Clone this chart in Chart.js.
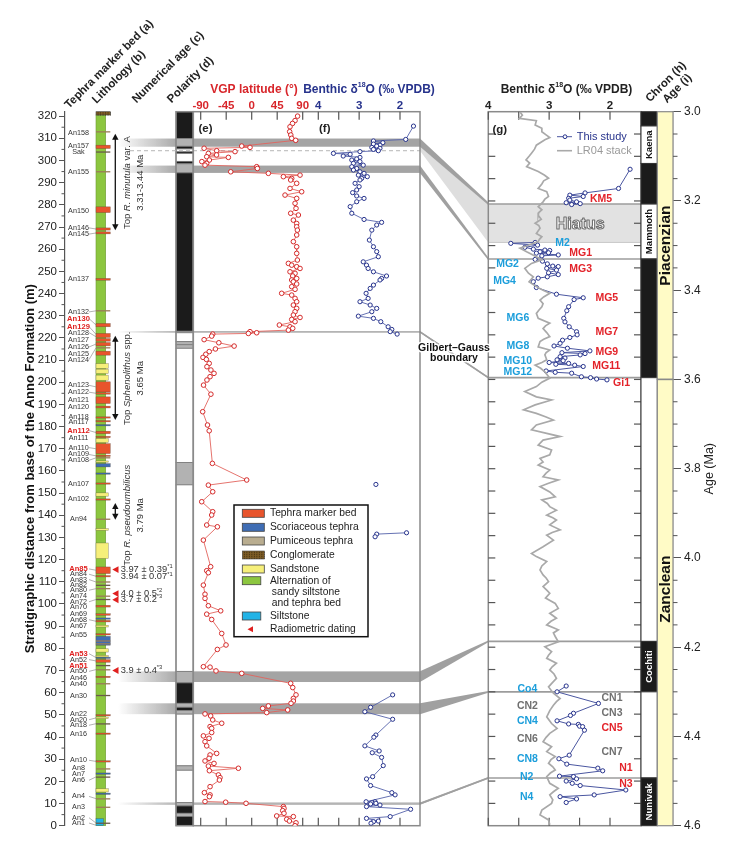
<!DOCTYPE html>
<html>
<head>
<meta charset="utf-8">
<title>Anno Formation – lithology, palaeomagnetism and benthic oxygen isotopes</title>
<script src="https://cdn.jsdelivr.net/npm/chart.js@4.4.1/dist/chart.umd.min.js"></script>
<style>
html,body{margin:0;padding:0;background:#ffffff;}
#wrap{position:relative;width:742px;height:856px;}
canvas{display:block;}
</style>
</head>
<body>
<div id="wrap"><canvas id="fig" width="742" height="856"></canvas></div>
<script>
// ======================= DATA =======================
const stratTicks = [0,10,20,30,40,50,60,70,80,90,100,110,120,130,140,150,160,170,180,190,200,210,220,230,240,250,260,270,280,290,300,310,320];
const ageTicks = [3.0,3.2,3.4,3.6,3.8,4.0,4.2,4.4,4.6];
const vgpTickValues = [-90,-45,0,45,90];
const isoTickValues = [4,3.5,3,2.5,2];
const isoTickLabels = [4,3,2];

// (e) VGP latitude vs stratigraphic height (m)
const vgpHeight = [320.0,318.0,316.7,315.2,313.0,311.5,310.0,309.1,306.5,305.9,305.5,304.4,304.0,303.2,302.5,301.7,301.4,300.2,299.5,298.7,297.9,297.2,296.4,294.9,294.2,293.4,292.7,291.9,291.2,289.7,287.4,285.9,284.4,282.9,280.7,278.4,276.2,275.4,273.1,271.6,270.1,268.6,266.4,263.4,261.1,258.1,255.1,253.6,252.8,252.1,251.3,249.8,249.1,247.9,246.8,246.1,245.3,244.3,243.1,241.9,240.1,239.3,237.8,236.3,234.8,233.3,231.8,230.3,229.2,228.3,227.3,225.8,225.0,224.3,223.5,222.8,222.3,222.0,221.7,220.8,219.2,217.8,216.3,215.0,213.8,212.6,211.2,210.3,208.5,207.0,205.5,204.0,202.5,201.0,198.7,194.6,186.7,180.7,178.1,163.4,155.9,153.6,150.6,146.1,141.6,140.1,135.6,134.8,128.8,116.8,115.0,114.1,108.5,104.4,102.5,99.2,96.9,95.4,93.0,86.7,81.5,79.5,71.7,71.5,69.8,68.7,64.2,62.3,59.0,57.4,56.2,55.2,54.0,52.9,52.2,51.0,50.4,49.5,47.7,46.2,44.7,43.9,42.0,40.5,39.4,37.9,36.0,32.6,31.9,30.4,29.2,28.1,26.9,25.9,24.8,22.9,21.7,20.6,17.6,14.9,13.9,13.1,10.9,10.6,10.1,8.6,7.8,6.8,5.6,4.4,4.1,2.9,2.1,1.3,0.0];
const vgpLatitude = [81,76.5,72,67.6,67,69,70.6,77.6,-17.6,-3,-84,-61.8,-29.4,-76.5,-62,-79.4,-41.2,-74.7,-88,-79.4,-82.4,8.8,10,-37,29.4,85.3,55.9,70.6,68.8,79.4,67.6,88.2,58.8,79.4,76.5,78.2,68.8,82.4,73.5,79.4,79.4,80.6,79.4,73.5,79.4,79.4,80.6,64.7,70.6,79.4,85.3,67.6,76.5,72.4,79.4,70.6,73.5,79.4,70.6,76.5,52.9,70.6,76.5,79.4,73.5,79.4,76.5,73.5,85.3,70.6,76.5,48.8,67.6,72.4,64.7,-3,8.8,-5.9,-68.8,-70.6,-84,-58,-31,-64,-75,-81,-86,-80,-75,-79,-72,-66.5,-73.5,-79,-85,-72,-86.5,-78,-75,-69.4,-8.8,-76.5,-68.8,-88.2,-68.8,-70.6,-79.4,-60.6,-85.3,-72.4,-79.4,-76.5,-85.3,-82.4,-82.4,-76.5,-54.7,-79.4,-70.6,-52.9,-45.3,-60.6,-85.3,-73.5,-63,-17.6,68.8,72.4,78.2,73.5,73.5,69.4,29.4,19.4,63.5,26.5,-82.4,-72.4,-68.8,-52.9,-73.5,-70.6,-70.6,-85.3,-75.3,-82.4,-79.4,-61.8,-73.5,-75.3,-82.4,-66.5,-76.5,-23.5,-74.7,-58.8,-55.9,-57,-73.5,-83.5,-73.5,-74.7,-82.4,-45.9,-10,55.9,57,54.7,57,44.1,73.5,61.8,66.5,78.2,76.5];

// (f) benthic d18O vs stratigraphic height (null = gap)
const isoHeight = [315.5,309.5,308.8,308.0,307.4,306.9,306.5,305.9,305.5,305.0,304.4,304.0,303.2,302.8,302.0,301.4,300.7,300.2,299.5,298.7,297.9,297.2,296.4,295.7,294.9,294.2,293.4,292.7,291.9,291.2,289.7,288.2,286.7,285.5,284.0,282.9,281.4,279.2,276.2,273.4,272.1,270.9,268.6,264.1,261.1,258.9,256.6,254.3,252.8,251.3,249.8,247.9,246.8,246.1,243.8,242.3,240.1,237.8,236.3,234.8,233.3,231.8,229.8,228.8,227.3,225.0,223.8,222.8,221.7,null,153.9,null,132.1,131.5,130.3,null,59.0,53.4,51.4,48.0,40.9,39.9,36.0,33.7,32.9,30.8,27.1,22.1,21.1,18.1,14.9,13.9,10.8,10.8,10.4,10.1,9.8,9.3,8.6,7.4,4.1,3.3,2.1,1.8,1.1];
const isoValue = [1.67,1.86,2.65,2.42,2.65,2.49,2.57,2.69,2.49,2.65,2.53,2.98,3.63,3.22,3.39,2.98,3.06,3.18,2.98,3.14,2.90,3.18,3.06,3.14,2.98,2.88,3.02,2.80,2.94,2.98,3.10,3.00,3.06,3.16,3.06,2.88,3.06,3.22,3.18,2.88,2.45,2.57,2.69,2.75,2.65,2.57,2.53,2.90,2.82,2.78,2.65,2.33,2.45,2.49,2.65,2.73,2.83,2.78,2.98,2.73,2.57,2.69,3.02,2.65,2.47,2.29,2.20,2.24,2.07,null,2.59,null,1.84,2.57,2.61,null,2.18,2.72,2.86,2.18,2.59,2.64,2.86,2.51,2.68,2.45,2.41,2.67,2.82,2.72,2.20,2.12,2.83,2.61,2.69,2.59,2.72,2.49,2.82,1.74,2.24,2.82,2.53,2.65,2.71];

// (g) benthic d18O of this study vs age (Ma)
const studyAge = [3.129,3.172,3.182,3.187,3.190,3.194,3.198,3.202,3.204,3.206,3.208,null,3.293,3.295,3.299,3.304,3.308,3.310,3.311,3.314,3.316,3.317,3.321,3.323,3.331,3.335,3.341,3.346,3.347,3.351,3.355,3.361,3.365,3.370,3.373,3.381,3.394,3.409,3.417,3.421,3.437,3.446,3.463,3.471,3.482,3.493,3.500,3.506,3.512,3.519,3.525,3.530,3.536,3.540,3.542,3.545,3.549,3.552,3.556,3.558,3.562,3.564,3.566,3.568,3.571,3.581,3.584,3.586,3.594,3.596,3.599,3.601,null,4.287,4.300,4.326,4.348,4.353,4.365,4.372,4.373,4.377,4.378,4.386,4.442,4.450,4.462,4.471,4.477,4.489,4.490,4.495,4.500,4.505,4.510,4.520,4.531,4.535,4.540,4.548];
const studyValue = [1.67,1.86,2.41,2.66,2.44,2.68,2.66,2.55,2.72,2.49,2.63,null,3.23,3.63,3.19,3.40,3.26,3.07,2.99,3.15,3.01,3.21,2.85,3.12,3.23,3.11,3.03,2.94,2.85,3.04,2.88,3.01,2.85,3.03,3.18,3.26,3.21,2.88,2.44,2.59,2.68,2.71,2.76,2.74,2.67,2.55,2.54,2.66,2.78,2.82,2.92,2.70,2.33,2.79,2.41,2.49,2.82,2.74,2.87,2.77,3.00,2.68,2.89,2.58,2.44,3.05,2.90,2.63,2.47,2.32,2.22,2.05,null,2.72,2.87,2.19,2.60,2.65,2.87,2.68,2.52,2.50,2.45,2.42,2.67,2.84,2.71,2.20,2.12,2.83,2.60,2.55,2.72,2.62,2.49,1.74,2.26,2.82,2.55,2.72];

// (g) LR04 benthic stack
const lr04Age = [3.000,3.008,3.015,3.020,3.030,3.037,3.045,3.052,3.058,3.063,3.075,3.084,3.093,3.100,3.108,3.115,3.123,3.134,3.142,3.149,3.155,3.162,3.172,3.179,3.190,3.196,3.202,3.213,3.220,3.226,3.232,3.241,3.250,3.255,3.261,3.273,3.280,3.286,3.291,3.302,3.306,3.314,3.325,3.332,3.340,3.351,3.362,3.370,3.381,3.392,3.400,3.407,3.415,3.422,3.430,3.437,3.445,3.452,3.463,3.474,3.480,3.486,3.495,3.504,3.510,3.515,3.527,3.534,3.540,3.545,3.556,3.562,3.568,3.575,3.583,3.590,3.597,3.606,3.616,3.627,3.639,3.646,3.657,3.668,3.676,3.684,3.691,3.702,3.713,3.721,3.728,3.736,3.747,3.758,3.769,3.777,3.785,3.792,3.803,3.810,3.818,3.825,3.833,3.840,3.852,3.863,3.870,3.878,3.885,3.893,3.904,3.910,3.915,3.926,3.937,3.943,3.949,3.960,3.975,3.990,3.997,4.008,4.018,4.027,4.038,4.045,4.053,4.064,4.072,4.079,4.090,4.102,4.113,4.124,4.135,4.142,4.150,4.161,4.168,4.176,4.188,4.199,4.210,4.218,4.225,4.236,4.244,4.251,4.260,4.270,4.280,4.289,4.303,4.315,4.322,4.330,4.342,4.356,4.371,4.382,4.393,4.402,4.412,4.423,4.434,4.445,4.452,4.460,4.468,4.475,4.482,4.490,4.505,4.516,4.524,4.531,4.542,4.550,4.565,4.576,4.587,4.598];
const lr04Value = [3.48,3.44,3.49,3.21,3.23,3.12,3.12,3.05,2.99,3.07,3.21,3.24,3.29,3.33,3.38,3.32,3.37,3.18,3.08,3.01,3.09,3.12,3.18,3.04,3.01,3.07,3.10,3.18,3.12,3.17,3.18,3.13,3.23,3.17,3.15,3.21,3.12,3.16,3.18,3.40,3.48,3.37,3.21,3.12,3.29,3.40,3.34,3.26,3.33,3.21,3.10,2.99,3.09,3.15,3.10,3.12,3.17,3.21,3.18,2.99,3.06,3.10,3.04,2.99,3.09,3.15,3.18,2.99,3.05,3.07,3.04,3.12,3.23,3.14,3.07,3.03,2.99,3.12,3.21,3.40,3.21,2.96,3.23,3.42,3.21,3.05,2.93,3.21,3.29,3.04,2.82,3.10,3.18,2.96,2.99,3.15,3.10,3.18,2.99,3.05,3.10,2.85,3.02,3.15,2.99,2.90,3.12,3.03,2.99,2.88,3.04,2.94,2.88,2.99,2.82,2.95,3.04,2.93,3.10,3.29,3.21,3.04,3.12,3.15,3.10,3.05,3.01,3.10,3.04,2.99,3.06,2.90,2.85,2.99,2.88,2.97,3.04,2.85,2.93,2.90,2.85,3.07,2.96,3.01,3.04,2.88,2.95,2.99,2.92,2.88,2.95,3.01,2.93,2.82,2.88,2.93,2.99,3.04,2.96,2.87,2.99,3.05,3.10,2.96,3.04,2.90,2.97,3.01,2.94,2.90,2.98,3.04,2.99,2.85,2.93,2.99,2.94,2.96,3.12,3.15,3.01,2.99];

// (b) lithology: [bottom (m), top (m), type]  T tephra marker, S scoriaceous, P pumiceous, C conglomerate, Y sandstone, I siltstone
const lithBeds = [
 [320.5,322,'C'],[312.7,313.2,'P'],[305.4,306.9,'T'],[303.7,304.1,'D'],[294.7,295.2,'P'],[276.5,279.1,'T'],[268.6,269.6,'T'],[266.9,267.8,'T'],
 [246.0,246.8,'T'],[232.0,232.5,'P'],[225.0,226.5,'T'],[220.2,222.0,'T'],[218.5,219.7,'T'],[216.4,217.9,'T'],[215.3,215.8,'P'],[212.2,214.0,'T'],
 [206.2,208.4,'Y'],[203.9,205.9,'Y'],[200.9,203.2,'Y'],[195.6,200.2,'T'],[194.6,195.3,'T'],[190.4,193.4,'T'],[188.4,189.2,'T'],[183.9,184.4,'T'],
 [182.2,182.7,'T'],[180.4,180.9,'S'],[176.8,177.9,'T'],[175.0,175.6,'T'],[172.8,174.6,'Y'],[167.8,172.3,'T'],[166.6,167.1,'T'],[165.7,166.2,'P'],
 [164.0,164.5,'Y'],[161.8,163.3,'S'],[158.6,159.1,'S'],[154.1,154.6,'T'],[148.6,150.1,'Y'],[146.9,147.4,'T'],[138.0,138.5,'P'],[133.2,134.0,'Y'],
 [120.5,127.5,'Y'],[113.7,116.7,'T'],[112.2,112.8,'T'],[109.7,110.2,'P'],[108.2,108.7,'D'],[106.7,107.2,'P'],[103.3,103.8,'P'],[101.8,102.3,'D'],
 [98.6,99.4,'T'],[94.9,95.6,'T'],[93.2,93.7,'S'],[91.9,92.6,'T'],[89.6,90.4,'Y'],[86.0,86.6,'T'],[81.4,85.4,'S'],[83.2,83.6,'P'],[82.0,82.3,'P'],
 [78.3,79.8,'Y'],[76.1,76.8,'Y'],[75.5,76.0,'S'],[73.7,74.9,'T'],[72.1,72.5,'D'],[70.2,70.6,'P'],[66.8,67.4,'T'],[63.9,64.3,'P'],[58.6,59.0,'D'],
 [49.6,50.1,'T'],[48.3,49.0,'Y'],[45.8,46.2,'D'],[41.3,41.8,'T'],[28.7,29.3,'T'],[25.5,25.9,'P'],[23.2,23.8,'S'],[21.8,22.2,'D'],[15.2,16.7,'Y'],
 [14.1,14.7,'S'],[12.0,12.4,'P'],[8.2,8.6,'P'],[0,3.2,'I'],[1.0,1.4,'D']
];
// (a) tephra labels: [name, label height, bed height, highlighted]
const tephraLabels = [
 ['An158',312.5,312.9,0],['An157',306.6,306.2,0],['Sak',303.9,303.9,0],['An155',294.6,294.9,0],['An150',277.4,277.8,0],['An146',269.6,269.1,0],
 ['An145',266.8,267.3,0],['An137',246.5,246.4,0],['An132',231.7,232.2,0],['An130',228.7,225.8,1],['An129',225.1,221.6,1],['An128',222.4,220.5,0],
 ['An127',219.2,219.1,0],['An126',215.9,217.2,0],['An125',212.9,213.1,0],['An124',210.2,215.5,0],['An123',198.6,197.9,0],['An122',195.5,195.0,0],
 ['An121',191.9,191.9,0],['An120',189.0,188.8,0],['An118',184.5,184.1,0],['An117',182.1,182.4,0],['An112',178.2,177.3,1],['An111',175.0,175.3,0],
 ['An110',170.5,170.0,0],['An109',167.4,166.8,0],['An108',164.8,165.9,0],['An107',154.0,154.3,0],['An102',147.2,147.1,0],['An94',138.5,138.2,0],
 ['An85',115.8,115.2,1],['An84',113.4,112.5,0],['An83',111.0,109.9,0],['An82',108.4,108.4,0],['An80',106.2,106.9,0],['An74',103.8,103.5,0],
 ['An72',101.0,102.0,0],['An70',98.6,99.0,0],['An69',95.6,95.2,0],['An68',92.9,92.2,0],['An67',90.1,90.0,0],['An55',85.9,86.3,0],
 ['An53',77.6,75.8,1],['An52',74.9,74.3,0],['An51',72.0,72.3,1],['An50',69.6,70.4,0],['An46',66.8,67.1,0],['An40',63.8,64.1,0],
 ['An30',58.5,58.8,0],['An22',50.2,49.8,0],['An20',47.8,48.6,0],['An18',45.3,46.0,0],['An16',41.5,41.5,0],['An10',29.5,29.0,0],
 ['An8',26.0,25.7,0],['An7',23.2,23.5,0],['An6',20.5,22.0,0],['An4',13.2,12.2,0],['An3',8.4,8.4,0],['An2',3.6,1.2,0],['An1',1.2,0.2,0]
];
// (c) numerical age ranges: [top (m), bottom (m), text centre (m), taxon, age]
const nannoDatums = [
 [312.0,268.5,290.0,['Top ','R. minutula',' var. A'],'3.31-3.44 Ma'],
 [221.0,183.0,201.8,['Top ','Sphenolithus',' spp.'],'3.65 Ma'],
 [145.5,138.0,140.0,['Top ','R. pseudoumbilicus',''],'3.79 Ma']
];
// radiometric dates: [height (m), marker shown, text, note]
const radioDates = [[115.5,1,'3.97 ± 0.39','*1'],[112.2,0,'3.94 ± 0.07','*1'],[104.7,1,'4.0 ± 0.5','*2'],[101.9,1,'3.7 ± 0.2','*3'],[70.0,1,'3.9 ± 0.4','*3']];
// (d) polarity: [bottom, top, N normal / R reversed / U uncertain]
const polarity = [
 [309.9,322,'N'],[306.4,309.9,'U'],[305.2,306.4,'N'],[303.9,305.2,'R'],[303.1,303.9,'N'],[299.6,303.1,'R'],[298.5,299.6,'N'],[294.4,298.5,'U'],
 [223.0,294.4,'N'],[222.3,223.0,'U'],[218.3,222.3,'R'],[216.9,218.3,'U'],[215.3,216.9,'U'],[163.8,215.3,'R'],[153.7,163.8,'U'],[69.6,153.7,'R'],
 [64.4,69.6,'U'],[55.2,64.4,'N'],[53.4,55.2,'U'],[51.9,53.4,'N'],[50.3,51.9,'U'],[27.0,50.3,'R'],[25.0,27.0,'U'],[10.4,25.0,'R'],
 [8.9,10.4,'U'],[5.6,8.9,'N'],[4.1,5.6,'U'],[0,4.1,'N']
];
// correlation bands: strat range (m) -> tie age range (Ma)
const corrStrat = [[306.2,309.9],[294.4,297.7],[222.3,223.1],[64.8,69.6],[50.3,55.2],[9.4,10.5]];
const corrAge = [[3.203,3.209],[3.327,3.333],[3.594,3.598],[4.185,4.189],[4.298,4.302],[4.491,4.495]];
const hiatusAge = [3.207,3.293];
const hiatusStratTop = 304.4;
const tieLineAges = [3.207,3.330,3.596,4.187,4.300,4.493];
// (h) chron: [top age, bottom age, N/R, name]
const chrons = [[3.0,3.032,'N',''],[3.032,3.116,'R','Kaena'],[3.116,3.207,'N',''],[3.207,3.330,'R','Mammoth'],[3.330,3.596,'N',''],[3.596,4.187,'R',''],[4.187,4.300,'N','Cochiti'],[4.300,4.493,'R',''],[4.493,4.6,'N','Nunivak']];
// (i) stages
const stages = [[3.0,3.6,'Piacenzian',3.30],[3.6,4.6,'Zanclean',4.07]];
// (g) isotope stage labels: [name, d18O position, age, colour class]
const misLabels = [
 ['KM5',2.33,3.196,'r'],['M2',2.90,3.294,'c'],['MG1',2.67,3.317,'r'],['MG2',3.87,3.341,'c'],['MG3',2.67,3.353,'r'],['MG4',3.92,3.379,'c'],
 ['MG5',2.24,3.417,'r'],['MG6',3.70,3.463,'c'],['MG7',2.24,3.495,'r'],['MG8',3.70,3.525,'c'],['MG9',2.24,3.539,'r'],['MG10',3.75,3.559,'c'],
 ['MG11',2.29,3.570,'r'],['MG12',3.75,3.584,'c'],['Gi1',1.95,3.609,'r'],['Co4',3.52,4.294,'c'],['CN1',2.14,4.315,'g'],['CN2',3.53,4.332,'g'],
 ['CN3',2.14,4.348,'g'],['CN4',3.53,4.365,'c'],['CN5',2.14,4.382,'r'],['CN6',3.53,4.406,'g'],['CN7',2.14,4.436,'g'],['CN8',3.53,4.451,'c'],
 ['N1',1.85,4.472,'r'],['N2',3.48,4.492,'c'],['N3',1.85,4.507,'r'],['N4',3.48,4.536,'c']
];
const legendItems = [['T','Tephra marker bed'],['S','Scoriaceous tephra'],['P','Pumiceous tephra'],['C','Conglomerate'],['Y','Sandstone'],['G','Alternation of|sandy siltstone|and tephra bed'],['I','Siltstone'],['R','Radiometric dating']];

// ======================= LAYOUT & STYLE =======================
const FF = '"Liberation Sans", Arial, Helvetica, sans-serif';
const F = (size, weight, style) => `${style || 'normal'} ${weight || 'normal'} ${size}px ${FF}`;
const L = 65, R = 673, TOP = 111.7, BOT = 825.7;
const EF_L = 193.3, EF_R = 420, G_L = 488.3, G_R = 641;
const POL_L = 176, CH_L = 641, CH_R = 657.3;
const COL_L = 96, COL_R = 105.7, BED_R = 110.3, SAND_R = 108.3, SILT_R = 103.5;
const RED = '#d8262b', NAVY = '#27338c';
const LITH = {T:'#e8542c', S:'#3f6db4', P:'#9a7b58', D:'#6a5a4a', C:'#7d5c26', Y:'#f6ef7a', I:'#22b3e6', G:'#8cc63f'};
const MISC = {r:'#e3232a', c:'#1c9edb', g:'#707070'};

function fitScale(v1, p1, v2, p2) {
  const k = (v2 - v1) / (p2 - p1);
  const a = v1 + (L - p1) * k, b = v1 + (R - p1) * k;
  return a < b ? {min: a, max: b, reverse: false} : {min: b, max: a, reverse: true};
}
const sE = fitScale(-90, 200.7, 90, 302.7);
const sF = fitScale(4, 318.3, 2, 400.0);
const sG = fitScale(4, 488.3, 2, 610.0);

function pts(xs, ys) { return xs.map((x, i) => ({x: x, y: ys[i]})); }

function richDraw(ctx, segs, x, y, align, rot) {
  ctx.save(); ctx.translate(x, y); if (rot) ctx.rotate(rot);
  let w = 0; segs.forEach(s => { ctx.font = s.f; w += ctx.measureText(s.t).width; });
  let cx = align === 'center' ? -w / 2 : (align === 'right' ? -w : 0);
  ctx.textAlign = 'left';
  segs.forEach(s => { ctx.font = s.f; ctx.fillStyle = s.c || '#222'; ctx.fillText(s.t, cx, s.dy || 0); cx += ctx.measureText(s.t).width; });
  ctx.restore();
}
function line(ctx, x1, y1, x2, y2) { ctx.beginPath(); ctx.moveTo(x1, y1); ctx.lineTo(x2, y2); ctx.stroke(); }
function poly(ctx, p) { ctx.beginPath(); ctx.moveTo(p[0][0], p[0][1]); for (let i = 1; i < p.length; i++) ctx.lineTo(p[i][0], p[i][1]); ctx.closePath(); ctx.fill(); }
function congl(ctx, x, y, w, h) {
  ctx.fillStyle = LITH.C; ctx.fillRect(x, y, w, h);
  ctx.fillStyle = '#2e2208';
  for (let i = 0; i < w; i += 2.5) for (let j = 0.8; j < h; j += 2) ctx.fillRect(x + i + ((j * 2) % 2), y + j, 0.9, 0.9);
  ctx.strokeStyle = '#444'; ctx.lineWidth = 0.6; ctx.strokeRect(x, y, w, h);
}

const figurePlugin = {
  id: 'figure',
  beforeDatasetsDraw(chart) {
    const ctx = chart.ctx, s = chart.scales;
    const Y = v => s.ys.getPixelForValue(v), A = a => s.ya.getPixelForValue(a);
    const T = chart.chartArea.top, B = chart.chartArea.bottom;
    ctx.save();
    // correlation bands (left fade + e/f panel)
    corrStrat.forEach(([b0, b1], i) => {
      const y0 = Y(b1), y1 = Y(b0), thin = (b1 - b0) < 2;
      const g = ctx.createLinearGradient(118, 0, POL_L, 0);
      g.addColorStop(0, 'rgba(165,165,165,0)'); g.addColorStop(1, thin ? 'rgba(175,175,175,0.9)' : 'rgba(165,165,165,0.95)');
      ctx.fillStyle = g; ctx.fillRect(118, y0, POL_L - 118, y1 - y0);
      ctx.fillStyle = thin ? '#b4b4b4' : '#a4a4a4'; ctx.fillRect(EF_L, y0, EF_R - EF_L, y1 - y0);
    });
    // hiatus wedge
    ctx.fillStyle = '#dedede';
    poly(ctx, [[EF_R, Y(306.2)], [G_L, A(hiatusAge[0])], [G_L, A(hiatusAge[1])], [EF_R, Y(hiatusStratTop)]]);
    // connectors
    corrStrat.forEach(([b0, b1], i) => {
      const [a0, a1] = corrAge[i];
      ctx.fillStyle = (b1 - b0) < 2 ? '#a8a8a8' : '#a0a0a0';
      poly(ctx, [[EF_R, Y(b1)], [G_L, A(a0)], [G_L, A(a1)], [EF_R, Y(b0)]]);
      if ((b1 - b0) < 2) { ctx.strokeStyle = '#a0a0a0'; ctx.lineWidth = 1.6; line(ctx, EF_R, (Y(b0) + Y(b1)) / 2, G_L, A((a0 + a1) / 2)); }
    });
    // hiatus box and tie lines in (g)
    ctx.fillStyle = '#e2e2e2'; ctx.fillRect(G_L, A(hiatusAge[0]), G_R - G_L, A(hiatusAge[1]) - A(hiatusAge[0]));
    ctx.strokeStyle = '#c9c9c9'; ctx.lineWidth = 1; line(ctx, G_L, A(hiatusAge[1]), G_R, A(hiatusAge[1]));
    ctx.strokeStyle = '#9c9c9c'; ctx.lineWidth = 1.6;
    tieLineAges.forEach(a => line(ctx, G_L, A(a), G_R, A(a)));
    // lithology column
    ctx.fillStyle = LITH.G; ctx.fillRect(COL_L, Y(320.5), COL_R - COL_L, Y(0) - Y(320.5));
    ctx.strokeStyle = '#6f9a35'; ctx.lineWidth = 0.6; ctx.strokeRect(COL_L, Y(320.5), COL_R - COL_L, Y(0) - Y(320.5));
    lithBeds.forEach(([b0, b1, t]) => {
      const y0 = Y(b1), h = Math.max(1.3, Y(b0) - Y(b1));
      if (t === 'C') { congl(ctx, COL_L, y0, BED_R - COL_L, h); return; }
      const right = t === 'Y' ? SAND_R : (t === 'I' ? SILT_R : BED_R);
      ctx.fillStyle = LITH[t]; ctx.fillRect(COL_L, y0, right - COL_L, h);
      if (t === 'T' || t === 'Y' || t === 'S' || t === 'I') { ctx.strokeStyle = 'rgba(70,60,50,0.55)'; ctx.lineWidth = 0.5; ctx.strokeRect(COL_L, y0, right - COL_L, h); }
    });
    // polarity column
    polarity.forEach(([b0, b1, c]) => {
      const y0 = Y(b1), y1 = Y(b0);
      ctx.fillStyle = c === 'N' ? '#1b1b1b' : (c === 'R' ? '#ffffff' : '#b2b2b2');
      ctx.fillRect(POL_L, y0, EF_L - POL_L, y1 - y0);
      ctx.strokeStyle = '#7a7a7a'; ctx.lineWidth = 0.8; ctx.strokeRect(POL_L, y0, EF_L - POL_L, y1 - y0);
    });
    ctx.strokeStyle = '#8a8a8a'; ctx.lineWidth = 1.5; ctx.strokeRect(POL_L, T, EF_L - POL_L, B - T);
    // dashed line (hiatus level)
    ctx.save(); ctx.setLineDash([4, 3]); ctx.strokeStyle = '#b5b5b5'; ctx.lineWidth = 1;
    line(ctx, 130, Y(hiatusStratTop), EF_R, Y(hiatusStratTop)); ctx.restore();
    // frames
    ctx.strokeStyle = '#8a8a8a'; ctx.lineWidth = 1.5;
    ctx.strokeRect(EF_L, T, EF_R - EF_L, B - T);
    ctx.strokeRect(G_L, T, G_R - G_L, B - T);
    // inner ticks
    ctx.strokeStyle = '#555'; ctx.lineWidth = 1.2;
    vgpTickValues.forEach(v => { const x = s.xe.getPixelForValue(v); line(ctx, x, T, x, T + 8); line(ctx, x, B, x, B - 8); });
    isoTickValues.forEach(v => { const x = s.xf.getPixelForValue(v); line(ctx, x, T, x, T + 8); line(ctx, x, B, x, B - 8); });
    isoTickValues.forEach(v => { const x = s.xg.getPixelForValue(v); line(ctx, x, T, x, T + 8); line(ctx, x, B, x, B - 8); });
    for (let a = 3.05; a < 4.58; a += 0.05) { const y = A(a); line(ctx, G_L, y, G_L + 7, y); line(ctx, G_R - 7, y, G_R, y); }
    // chron column
    chrons.forEach(([a0, a1, c, name]) => {
      const y0 = A(a0), y1 = A(a1);
      ctx.fillStyle = c === 'N' ? '#1b1b1b' : '#ffffff'; ctx.fillRect(CH_L, y0, CH_R - CH_L, y1 - y0);
      ctx.strokeStyle = '#333'; ctx.lineWidth = 1; ctx.strokeRect(CH_L, y0, CH_R - CH_L, y1 - y0);
    });
    // stage column
    stages.forEach(([a0, a1]) => {
      ctx.fillStyle = '#fffbc6'; ctx.fillRect(CH_R, A(a0), R - CH_R, A(a1) - A(a0));
      ctx.strokeStyle = '#8a8a8a'; ctx.lineWidth = 1.2; ctx.strokeRect(CH_R, A(a0), R - CH_R, A(a1) - A(a0));
    });
    // minor ticks on outer axes
    ctx.strokeStyle = '#555'; ctx.lineWidth = 1;
    for (let v = 5; v < 322; v += 10) line(ctx, L - 3.5, Y(v), L, Y(v));
    for (let a = 3.05; a < 4.58; a += 0.05) { if (Math.abs(a * 5 - Math.round(a * 5)) > 0.01) line(ctx, R, A(a), R + 4.5, A(a)); }
    ctx.restore();
  },
  afterDatasetsDraw(chart) {
    const ctx = chart.ctx, s = chart.scales;
    const Y = v => s.ys.getPixelForValue(v), A = a => s.ya.getPixelForValue(a), XG = v => s.xg.getPixelForValue(v);
    const T = chart.chartArea.top, B = chart.chartArea.bottom;
    ctx.save();
    ctx.textBaseline = 'middle';
    // rotated column headers
    [['Tephra marker bed (a)', 69, 109], ['Lithology (b)', 96.5, 104], ['Numerical age (c)', 136.5, 103.5], ['Polarity (d)', 171.5, 103.5], ['Chron (h)', 650, 102.5], ['Age (i)', 667, 103.5]].forEach(([t, x, y]) => {
      ctx.save(); ctx.translate(x, y); ctx.rotate(-Math.PI / 4); ctx.font = F(11.5, 'bold'); ctx.fillStyle = '#222'; ctx.textAlign = 'left'; ctx.textBaseline = 'alphabetic'; ctx.fillText(t, 0, 0); ctx.restore();
    });
    // tephra labels with leaders
    tephraLabels.forEach(([name, lv, bv, hi]) => {
      const y = Y(lv);
      ctx.font = hi ? F(7.6, 'bold') : F(7.2); ctx.fillStyle = hi ? '#e0201f' : '#333'; ctx.textAlign = 'center';
      ctx.fillText(name, 78.5, y);
      if (Math.abs(lv - bv) >= 0.5) { ctx.strokeStyle = '#808080'; ctx.lineWidth = 0.6; line(ctx, 89, y, COL_L, Y(bv)); }
    });
    // nannofossil datums
    nannoDatums.forEach(([top, bot, mid, taxon, age]) => {
      const x = 115.3, y0 = Y(top), y1 = Y(bot);
      ctx.strokeStyle = '#111'; ctx.fillStyle = '#111'; ctx.lineWidth = 1.3;
      line(ctx, x, y0 + 4, x, y1 - 4);
      poly(ctx, [[x, y0], [x - 3.2, y0 + 6], [x + 3.2, y0 + 6]]);
      poly(ctx, [[x, y1], [x - 3.2, y1 - 6], [x + 3.2, y1 - 6]]);
      ctx.textBaseline = 'middle';
      richDraw(ctx, [{t: taxon[0], f: F(9.5), c: '#333'}, {t: taxon[1], f: F(9.5, 'normal', 'italic'), c: '#333'}, {t: taxon[2], f: F(9.5), c: '#333'}], 127, Y(mid), 'center', -Math.PI / 2);
      richDraw(ctx, [{t: age, f: F(9.5), c: '#333'}], 140, Y(mid), 'center', -Math.PI / 2);
    });
    // radiometric dating
    radioDates.forEach(([h, mark, t, n]) => {
      const y = Y(h);
      if (mark) { ctx.fillStyle = '#e0201f'; poly(ctx, [[112.3, y], [118.5, y - 3.4], [118.5, y + 3.4]]); }
      richDraw(ctx, [{t: t, f: F(9.3), c: '#333'}, {t: n, f: F(5.8), c: '#333', dy: -3}], 120.7, y, 'left');
    });
    // axis titles (top)
    ctx.textBaseline = 'middle';
    richDraw(ctx, [{t: 'VGP latitude (°)', f: F(12, 'bold'), c: RED}], 254, 89.5, 'center');
    richDraw(ctx, [{t: 'Benthic δ', f: F(12, 'bold'), c: NAVY}, {t: '18', f: F(7, 'bold'), c: NAVY, dy: -4}, {t: 'O (‰ VPDB)', f: F(12, 'bold'), c: NAVY}], 369, 89.5, 'center');
    richDraw(ctx, [{t: 'Benthic δ', f: F(12, 'bold'), c: '#222'}, {t: '18', f: F(7, 'bold'), c: '#222', dy: -4}, {t: 'O (‰ VPDB)', f: F(12, 'bold'), c: '#222'}], 566.5, 89.5, 'center');
    ctx.textAlign = 'center';
    ctx.font = F(11.5, 'bold'); ctx.fillStyle = RED;
    vgpTickValues.forEach(v => ctx.fillText(String(v), s.xe.getPixelForValue(v), 105.5));
    ctx.fillStyle = NAVY; isoTickLabels.forEach(v => ctx.fillText(String(v), s.xf.getPixelForValue(v), 105.5));
    ctx.fillStyle = '#222'; isoTickLabels.forEach(v => ctx.fillText(String(v), XG(v), 105.5));
    // panel letters
    ctx.textAlign = 'left'; ctx.font = F(11.5, 'bold'); ctx.fillStyle = '#222';
    ctx.fillText('(e)', 198.5, 128.5); ctx.fillText('(f)', 319, 128.5); ctx.fillText('(g)', 492.5, 129.5);
    // lithology legend
    const bx = 234, by = 505, bw = 134, bh = 131.7;
    ctx.fillStyle = '#fff'; ctx.fillRect(bx, by, bw, bh); ctx.strokeStyle = '#111'; ctx.lineWidth = 1.5; ctx.strokeRect(bx, by, bw, bh);
    const rowsY = [513.3, 527.3, 541, 555, 569, 580.7, 616, 629.3];
    legendItems.forEach(([k, text], i) => {
      const y = rowsY[i];
      if (k === 'C') congl(ctx, 242.3, y - 4, 22, 8);
      else if (k === 'R') { ctx.fillStyle = '#e0201f'; poly(ctx, [[247.5, y], [253, y - 3], [253, y + 3]]); }
      else {
        const w = (k === 'G' || k === 'I') ? 18.5 : 22;
        ctx.fillStyle = k === 'P' ? '#b9ad90' : LITH[k]; ctx.fillRect(242.3, y - 4, w, 8);
        ctx.strokeStyle = '#444'; ctx.lineWidth = 0.8; ctx.strokeRect(242.3, y - 4, w, 8);
      }
      ctx.font = F(10.3); ctx.fillStyle = '#222'; ctx.textAlign = 'left';
      const parts = text.split('|');
      parts.forEach((p, j) => ctx.fillText(p, j === 0 ? 270 : 271.8, y + j * 11.3));
    });
    // (g) legend
    ctx.strokeStyle = '#4a56a0'; ctx.lineWidth = 1; line(ctx, 557, 136.7, 572, 136.7);
    ctx.beginPath(); ctx.arc(565, 136.7, 1.9, 0, Math.PI * 2); ctx.fillStyle = '#fff'; ctx.fill(); ctx.strokeStyle = NAVY; ctx.stroke();
    ctx.font = F(11); ctx.fillStyle = NAVY; ctx.textAlign = 'left'; ctx.fillText('This study', 576.7, 137);
    ctx.strokeStyle = '#a9a9a9'; ctx.lineWidth = 1.6; line(ctx, 557, 150.7, 572, 150.7);
    ctx.fillStyle = '#9a9a9a'; ctx.fillText('LR04 stack', 576.7, 151);
    // isotope stage labels
    ctx.font = F(10.5, 'bold');
    misLabels.forEach(([t, d, a, c]) => { ctx.fillStyle = MISC[c]; ctx.fillText(t, XG(d), A(a)); });
    // Gilbert–Gauss boundary
    ctx.textAlign = 'center'; ctx.font = F(10.5, 'bold'); ctx.lineWidth = 3; ctx.strokeStyle = '#fff'; ctx.lineJoin = 'round';
    ['Gilbert–Gauss', 'boundary'].forEach((t, j) => { ctx.strokeText(t, 454, 348.5 + j * 9.5); ctx.fillStyle = '#111'; ctx.fillText(t, 454, 348.5 + j * 9.5); });
    // Hiatus
    ctx.font = F(16, 'bold'); ctx.lineWidth = 1.1; ctx.strokeStyle = '#707070'; ctx.fillStyle = '#ffffff';
    ctx.fillText('Hiatus', XG(2.49), A(3.252)); ctx.strokeText('Hiatus', XG(2.49), A(3.252));
    // chron names
    chrons.forEach(([a0, a1, c, name]) => {
      if (!name) return;
      ctx.save(); ctx.translate((CH_L + CH_R) / 2 + 0.5, A((a0 + a1) / 2)); ctx.rotate(-Math.PI / 2);
      ctx.font = F(9.6, 'bold'); ctx.fillStyle = c === 'N' ? '#fff' : '#111'; ctx.textAlign = 'center'; ctx.fillText(name, 0, 0); ctx.restore();
    });
    stages.forEach(([a0, a1, name, mid]) => {
      ctx.save(); ctx.translate((CH_R + R) / 2 + 0.5, A(mid)); ctx.rotate(-Math.PI / 2);
      ctx.font = F(15.5, 'bold'); ctx.fillStyle = '#111'; ctx.textAlign = 'center'; ctx.fillText(name, 0, 0); ctx.restore();
    });
    ctx.strokeStyle = '#8a8a8a'; ctx.lineWidth = 1.4; line(ctx, CH_R, A(3.6), R, A(3.6));
    // right axis title
    ctx.save(); ctx.translate(709.5, (T + B) / 2); ctx.rotate(-Math.PI / 2); ctx.font = F(12.5); ctx.fillStyle = '#222'; ctx.textAlign = 'center'; ctx.fillText('Age (Ma)', 0, 0); ctx.restore();
    ctx.restore();
  }
};

// ======================= CHART =======================
const commonPt = {showLine: true, spanGaps: false, tension: 0};
new Chart(document.getElementById('fig'), {
  type: 'scatter',
  data: {
    datasets: [
      Object.assign({label: 'LR04 stack', data: pts(lr04Value, lr04Age), xAxisID: 'xg', yAxisID: 'ya', borderColor: '#a9a9a9', borderWidth: 1.7, pointRadius: 0}, commonPt),
      Object.assign({label: 'VGP latitude', data: pts(vgpLatitude, vgpHeight), xAxisID: 'xe', yAxisID: 'ys', borderColor: '#e2645e', borderWidth: 0.9, pointRadius: 2.3, pointBorderWidth: 1, pointBorderColor: '#d42a2a', pointBackgroundColor: '#ffffff'}, commonPt),
      Object.assign({label: 'Benthic d18O (f)', data: pts(isoValue, isoHeight), xAxisID: 'xf', yAxisID: 'ys', borderColor: '#5562aa', borderWidth: 0.9, pointRadius: 2.1, pointBorderWidth: 1, pointBorderColor: NAVY, pointBackgroundColor: '#ffffff'}, commonPt),
      Object.assign({label: 'This study', data: pts(studyValue, studyAge), xAxisID: 'xg', yAxisID: 'ya', borderColor: '#4a56a0', borderWidth: 1, pointRadius: 2.1, pointBorderWidth: 1, pointBorderColor: NAVY, pointBackgroundColor: '#ffffff'}, commonPt)
    ]
  },
  options: {
    responsive: false, animation: false, events: [],
    layout: {padding: {top: TOP, bottom: 856 - BOT, left: 0, right: 0}},
    plugins: {legend: {display: false}, tooltip: {enabled: false}},
    scales: {
      xe: {axis: 'x', type: 'linear', display: false, min: sE.min, max: sE.max, reverse: sE.reverse},
      xf: {axis: 'x', type: 'linear', display: false, min: sF.min, max: sF.max, reverse: sF.reverse},
      xg: {axis: 'x', type: 'linear', display: false, min: sG.min, max: sG.max, reverse: sG.reverse},
      ys: {
        axis: 'y', type: 'linear', position: 'left', min: 0, max: 322,
        afterFit: sc => { sc.width = L; },
        afterBuildTicks: sc => { sc.ticks = stratTicks.map(v => ({value: v})); },
        ticks: {color: '#222', font: {family: FF, size: 11.5}, padding: 2},
        grid: {drawOnChartArea: false, tickLength: 6, color: '#555', tickColor: '#555'},
        border: {display: true, color: '#555', width: 1.2},
        title: {display: true, text: 'Stratigraphic distance from base of the Anno Formation (m)', color: '#111', font: {family: FF, size: 13, weight: 'bold'}, padding: {top: 23, bottom: 0}}
      },
      ya: {
        axis: 'y', type: 'linear', position: 'right', min: 3.0, max: 4.6, reverse: true,
        afterFit: sc => { sc.width = 742 - R; },
        afterBuildTicks: sc => { sc.ticks = ageTicks.map(v => ({value: v})); },
        ticks: {color: '#222', font: {family: FF, size: 12}, padding: 3, callback: v => Number(v).toFixed(1)},
        grid: {drawOnChartArea: false, tickLength: 8, color: '#555', tickColor: '#555'},
        border: {display: true, color: '#666', width: 1.2}
      }
    }
  },
  plugins: [figurePlugin]
});
</script>
</body>
</html>
